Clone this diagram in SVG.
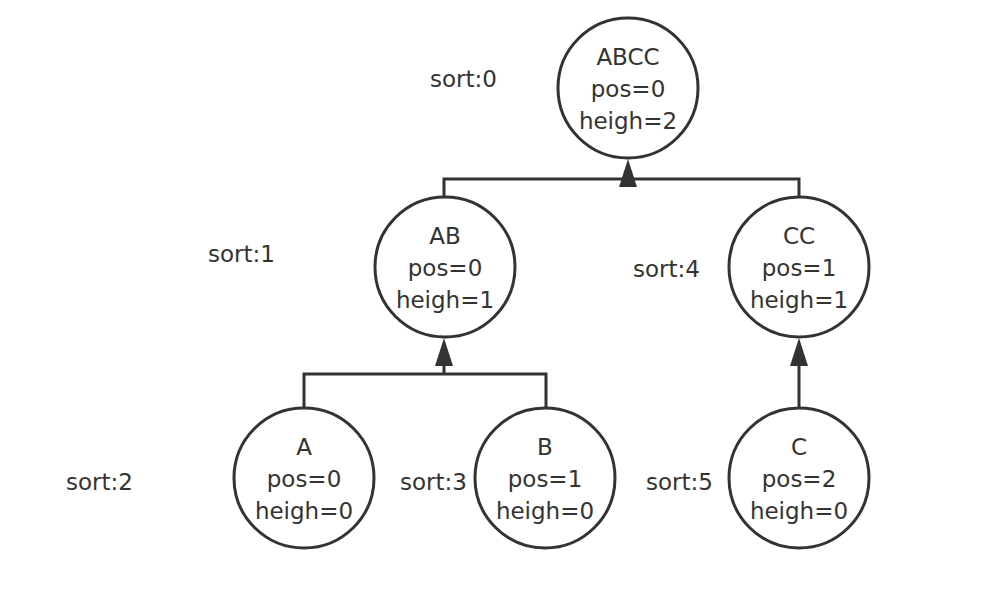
<svg xmlns="http://www.w3.org/2000/svg" width="1004" height="600" viewBox="0 0 1004 600">
<style>
.n{fill:#fff;stroke:#333;stroke-width:3}
.t{font-family:"DejaVu Sans",sans-serif;font-size:23px;fill:#333;text-anchor:middle}
.s{font-family:"DejaVu Sans",sans-serif;font-size:23px;fill:#333}
.e{fill:none;stroke:#333;stroke-width:3}
.a{fill:#333}
</style>
<rect width="1004" height="600" fill="#fff"/>
<g id="connectors">
<path class="e" d="M444 197V179H799V197"/>
<path class="e" d="M628 179V185"/>
<polygon class="a" points="628,159 637,187 619,187"/>
<path class="e" d="M304 409V374H546V409"/>
<path class="e" d="M444 374V364"/>
<polygon class="a" points="444,338 453,366 435,366"/>
<path class="e" d="M799 409V364"/>
<polygon class="a" points="799,338 808,366 790,366"/>
</g>
<g id="ABCC"><circle class="n" cx="628" cy="88" r="70"/><text class="t" x="628" y="65">ABCC</text><text class="t" x="628" y="97">pos=0</text><text class="t" x="628" y="129">heigh=2</text></g>
<g id="AB"><circle class="n" cx="445" cy="267" r="70"/><text class="t" x="445" y="244">AB</text><text class="t" x="445" y="276">pos=0</text><text class="t" x="445" y="308">heigh=1</text></g>
<g id="CC"><circle class="n" cx="799" cy="267" r="70"/><text class="t" x="799" y="244">CC</text><text class="t" x="799" y="276">pos=1</text><text class="t" x="799" y="308">heigh=1</text></g>
<g id="A"><circle class="n" cx="304" cy="478" r="70"/><text class="t" x="304" y="455">A</text><text class="t" x="304" y="487">pos=0</text><text class="t" x="304" y="519">heigh=0</text></g>
<g id="B"><circle class="n" cx="545" cy="478" r="70"/><text class="t" x="545" y="455">B</text><text class="t" x="545" y="487">pos=1</text><text class="t" x="545" y="519">heigh=0</text></g>
<g id="C"><circle class="n" cx="799" cy="478" r="70"/><text class="t" x="799" y="455">C</text><text class="t" x="799" y="487">pos=2</text><text class="t" x="799" y="519">heigh=0</text></g>
<g id="labels">
<text class="s" x="430" y="87">sort:0</text>
<text class="s" x="208" y="262">sort:1</text>
<text class="s" x="633" y="277">sort:4</text>
<text class="s" x="66" y="490">sort:2</text>
<text class="s" x="400" y="490">sort:3</text>
<text class="s" x="646" y="490">sort:5</text>
</g>
</svg>
